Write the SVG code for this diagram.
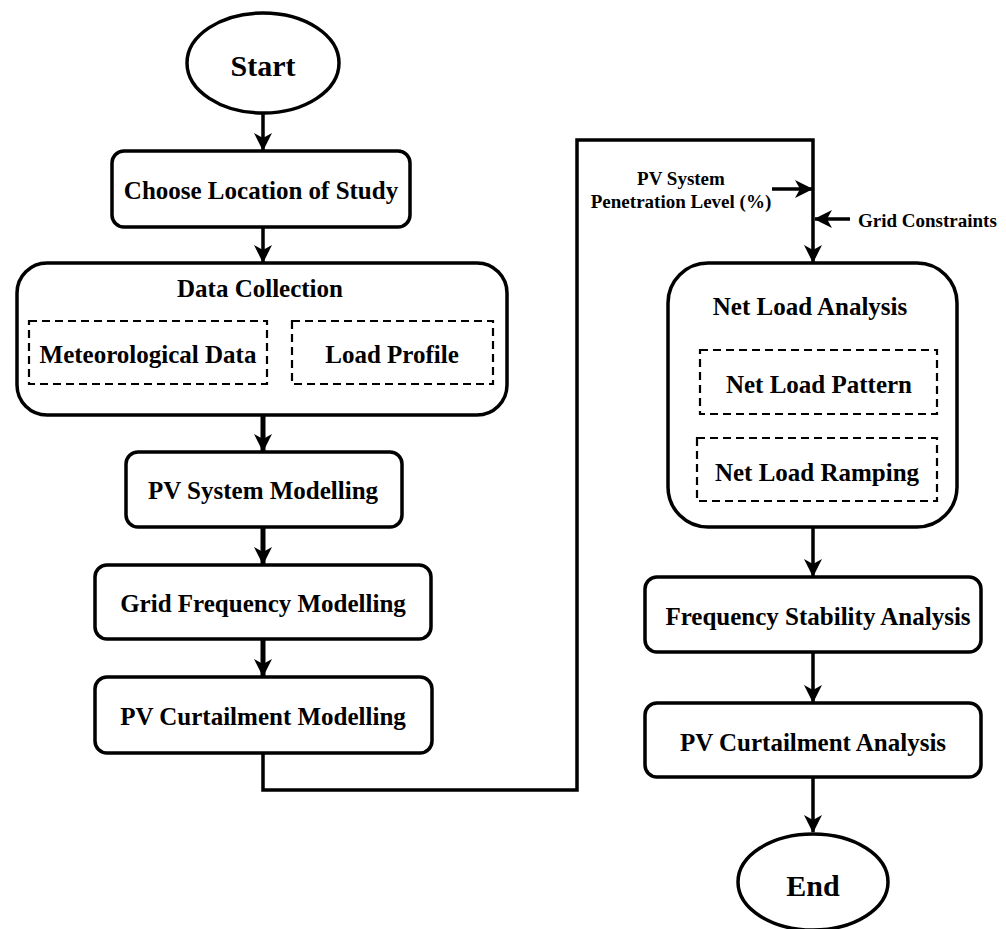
<svg xmlns="http://www.w3.org/2000/svg" width="1006" height="929" viewBox="0 0 1006 929">
<defs>
<marker id="ah" markerUnits="userSpaceOnUse" markerWidth="20" markerHeight="20" viewBox="0 0 20 20" refX="17" refY="10" orient="auto">
<path d="M0,1 L18,10 L0,19 L5,10 z" fill="#000"/>
</marker>
<style>
.box{fill:#fff;stroke:#000;stroke-width:3.5}
.dash{fill:none;stroke:#000;stroke-width:2.2;stroke-dasharray:8,5}
.t{font-family:"Liberation Serif","Times New Roman",serif;font-weight:bold;fill:#000;text-anchor:middle;dominant-baseline:central}
.c{fill:none;stroke:#000;stroke-width:3.5}
</style>
</defs>
<rect width="1006" height="929" fill="#fff"/>
<g id="connectors">
<path class="c" d="M263,113 V150" marker-end="url(#ah)"/>
<path class="c" d="M263,227 V262" marker-end="url(#ah)"/>
<path class="c" d="M263,415 V451" style="stroke-width:5" marker-end="url(#ah)"/>
<path class="c" d="M263,527 V564" style="stroke-width:5" marker-end="url(#ah)"/>
<path class="c" d="M263,639 V676" style="stroke-width:5" marker-end="url(#ah)"/>
<path class="c" d="M263,753 V790 H577 V140 H813 V262" marker-end="url(#ah)"/>
<path class="c" d="M772,189 H812" marker-end="url(#ah)"/>
<path class="c" d="M850,219 H815" marker-end="url(#ah)"/>
<path class="c" d="M813,527 V576" marker-end="url(#ah)"/>
<path class="c" d="M813,652 V702" marker-end="url(#ah)"/>
<path class="c" d="M813,777 V832" marker-end="url(#ah)"/>
</g>
<g id="start">
<ellipse class="box" cx="263" cy="63" rx="76" ry="50"/>
<text class="t" x="263" y="65" font-size="30">Start</text>
</g>
<g id="choose">
<rect class="box" x="112" y="151" width="298" height="76" rx="12"/>
<text class="t" x="261" y="190" font-size="25">Choose Location of Study</text>
</g>
<g id="data">
<rect class="box" x="17" y="263" width="490" height="152" rx="30"/>
<text class="t" x="260" y="288" font-size="25">Data Collection</text>
<rect class="dash" x="29" y="321" width="238" height="63"/>
<text class="t" x="148" y="354" font-size="25">Meteorological Data</text>
<rect class="dash" x="292" y="321" width="201" height="63"/>
<text class="t" x="392" y="354" font-size="25">Load Profile</text>
</g>
<g id="pvsys">
<rect class="box" x="126" y="452" width="276" height="75" rx="12"/>
<text class="t" x="263" y="490" font-size="25">PV System Modelling</text>
</g>
<g id="gridfreq">
<rect class="box" x="95" y="565" width="336" height="74" rx="12"/>
<text class="t" x="263" y="603" font-size="25">Grid Frequency Modelling</text>
</g>
<g id="pvcurt">
<rect class="box" x="95" y="677" width="337" height="76" rx="12"/>
<text class="t" x="263" y="716" font-size="25">PV Curtailment Modelling</text>
</g>
<g id="penetration">
<text class="t" x="681" y="178" font-size="19">PV System</text>
<text class="t" x="681" y="201" font-size="19">Penetration Level (%)</text>
</g>
<g id="gridcons">
<text class="t" x="858" y="220" font-size="19" style="text-anchor:start">Grid Constraints</text>
</g>
<g id="netload">
<rect class="box" x="668" y="263" width="289" height="264" rx="40"/>
<text class="t" x="810" y="306" font-size="25">Net Load Analysis</text>
<rect class="dash" x="700" y="350" width="237" height="64"/>
<text class="t" x="819" y="384" font-size="25">Net Load Pattern</text>
<rect class="dash" x="697" y="438" width="240" height="63"/>
<text class="t" x="817" y="472" font-size="25">Net Load Ramping</text>
</g>
<g id="freqstab">
<rect class="box" x="645" y="577" width="336" height="75" rx="12"/>
<text class="t" x="818" y="616" font-size="25">Frequency Stability Analysis</text>
</g>
<g id="pvcurta">
<rect class="box" x="645" y="703" width="336" height="74" rx="12"/>
<text class="t" x="813" y="742" font-size="25">PV Curtailment Analysis</text>
</g>
<g id="end">
<ellipse class="box" cx="813" cy="882" rx="75" ry="48"/>
<text class="t" x="813" y="885" font-size="30">End</text>
</g>
</svg>
